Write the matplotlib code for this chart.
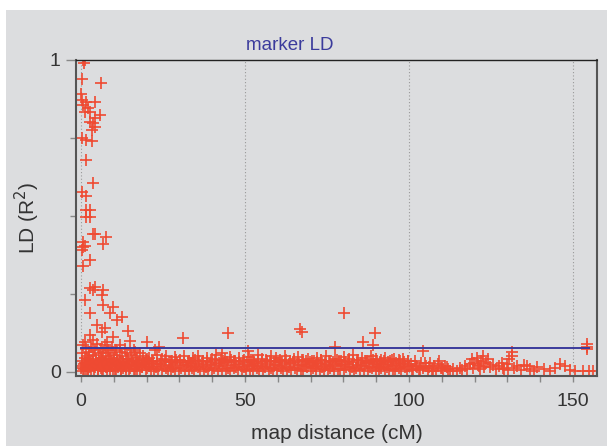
import numpy as np
import matplotlib
matplotlib.use("Agg")
import matplotlib.pyplot as plt
from matplotlib.patches import Rectangle
from matplotlib.ticker import MultipleLocator, FixedLocator

plt.rcParams['font.family'] = ['Liberation Sans', 'DejaVu Sans']

# pares con LD alto (lectura del grafico)
out_x = [0.5, 1.0, 1.2, 0.2, 6.0, 0.0, 0.2, 1.7, 4.3, 0.7, 2.2, 1.2, 2.7, 5.8, 4.3,
         2.7, 3.8, 4.3, 3.3, 0.2, 1.7, 3.3, 1.5, 3.8, 0.2, 1.7, 1.7, 2.9, 1.7, 2.9,
         3.6, 4.3, 7.6, 0.7, 1.2, 6.8, 0.5, 0.2, 2.7, 0.7, 2.7, 4.3, 3.8, 6.8, 6.3,
         1.2, 6.8, 9.8, 2.7, 8.8, 12.4, 10.9, 4.8, 7.3, 14.4, 6.3, 2.7, 9.8, 14.9, 1.2,
         3.8, 7.8, 20.0, 11.9, 23.9, 31.2, 44.9, 22.6, 16.5, 66.8, 67.3, 80.2, 89.6, 85.9,
         77.4, 89.1, 42.9, 51.0, 104.4, 131.3, 154.4, 154.4, 154.4]
out_y = [1.0, 0.99, 1.0, 0.94, 0.925, 0.89, 0.872, 0.866, 0.866, 0.856, 0.847, 0.834, 0.834, 0.824, 0.813,
         0.802, 0.797, 0.786, 0.776, 0.749, 0.744, 0.74, 0.68, 0.607, 0.578, 0.564, 0.519, 0.519, 0.498, 0.498,
         0.442, 0.442, 0.432, 0.418, 0.404, 0.41, 0.40, 0.391, 0.359, 0.34, 0.268, 0.273, 0.263, 0.263, 0.247,
         0.231, 0.215, 0.209, 0.188, 0.188, 0.175, 0.167, 0.151, 0.14, 0.132, 0.129, 0.119, 0.113, 0.10, 0.097,
         0.103, 0.097, 0.097, 0.087, 0.079, 0.108, 0.126, 0.07, 0.065, 0.137, 0.129, 0.19, 0.126, 0.097,
         0.081, 0.087, 0.062, 0.068, 0.068, 0.065, 0.073, 0.081, 0.088]

# banda densa cerca de 0-20 cM
near_x = [0.2, 0.4, 0.7, 1.0, 1.3, 1.5, 1.8, 2.1, 2.4, 2.6, 2.9, 3.2, 3.5, 3.7, 4.0,
          4.3, 4.6, 4.8, 5.1, 5.4, 5.7, 6.0, 6.2, 6.5, 6.8, 7.1, 7.4, 7.6, 7.9, 8.2,
          8.5, 8.8, 9.1, 9.4, 9.7, 10.0, 10.4, 10.7, 11.0, 11.4, 11.8, 12.1, 12.5, 12.9, 13.3,
          13.6, 14.0, 14.4, 14.8, 15.2, 15.7, 16.1, 16.6, 17.0, 17.5, 18.0, 18.5, 19.0, 19.5, 20.0]
near_y = [0.06, 0.02, 0.085, 0.01, 0.045, 0.075, 0.03, 0.005, 0.065, 0.05, 0.015, 0.08, 0.035, 0.055, 0.02,
          0.07, 0.04, 0.09, 0.01, 0.06, 0.025, 0.075, 0.045, 0.005, 0.065, 0.03, 0.085, 0.05, 0.015, 0.07,
          0.04, 0.06, 0.02, 0.08, 0.035, 0.055, 0.01, 0.07, 0.045, 0.025, 0.065, 0.005, 0.05, 0.03, 0.075,
          0.015, 0.06, 0.04, 0.02, 0.055, 0.035, 0.07, 0.01, 0.045, 0.025, 0.06, 0.015, 0.05, 0.03, 0.04]

# banda baja 0-100 cM
low_x = [0.1, 0.5, 0.9, 1.4, 1.8, 2.3, 2.6, 3.1, 3.5, 4.0, 4.4, 4.9, 5.3, 5.8, 6.2,
         6.7, 7.1, 7.6, 8.0, 8.5, 9.0, 9.4, 9.9, 10.3, 10.8, 11.3, 11.7, 12.2, 12.7, 13.1,
         13.6, 14.1, 14.6, 15.0, 15.6, 16.1, 16.5, 17.1, 17.6, 18.0, 18.6, 19.1, 19.7, 20.2, 20.8,
         21.3, 21.9, 22.4, 23.0, 23.6, 24.1, 24.7, 25.3, 25.8, 26.4, 27.0, 27.6, 28.1, 28.7, 29.3,
         29.9, 30.5, 31.1, 31.6, 32.2, 32.8, 33.4, 34.0, 34.6, 35.2, 35.8, 36.4, 37.0, 37.6, 38.2,
         38.8, 39.4, 40.0, 40.6, 41.2, 41.8, 42.4, 43.0, 43.6, 44.2, 44.8, 45.4, 46.0, 46.6, 47.2,
         47.8, 48.4, 49.0, 49.6, 50.2, 50.8, 51.4, 52.0, 52.6, 53.2, 53.8, 54.4, 55.0, 55.6, 56.2,
         56.8, 57.4, 58.0, 58.6, 59.2, 59.8, 60.4, 61.0, 61.6, 62.2, 62.8, 63.4, 64.0, 64.6, 65.2,
         65.8, 66.4, 67.0, 67.6, 68.2, 68.8, 69.4, 70.0, 70.6, 71.2, 71.8, 72.4, 73.0, 73.6, 74.2,
         74.8, 75.4, 76.0, 76.6, 77.2, 77.8, 78.4, 79.0, 79.6, 80.2, 80.8, 81.4, 82.0, 82.6, 83.2,
         83.8, 84.4, 85.0, 85.6, 86.2, 86.8, 87.4, 88.0, 88.6, 89.2, 89.8, 90.4, 91.0, 91.6, 92.2,
         92.8, 93.4, 94.0, 94.6, 95.2, 95.8, 96.4, 97.0, 97.6, 98.2, 98.8, 99.4, 100.0]
low_y = [0.012, 0.003, 0.025, 0.008, 0.018, 0.002, 0.03, 0.01, 0.022, 0.005, 0.015, 0.028, 0.007, 0.02, 0.012,
         0.004, 0.026, 0.016, 0.009, 0.024, 0.003, 0.019, 0.011, 0.029, 0.006, 0.017, 0.023, 0.002, 0.014, 0.027,
         0.008, 0.021, 0.004, 0.013, 0.025, 0.01, 0.018, 0.003, 0.022, 0.007, 0.016, 0.028, 0.005, 0.012, 0.02,
         0.009, 0.024, 0.002, 0.015, 0.011, 0.026, 0.006, 0.019, 0.013, 0.003, 0.023, 0.008, 0.017, 0.01, 0.029,
         0.004, 0.014, 0.021, 0.007, 0.018, 0.002, 0.025, 0.012, 0.005, 0.02, 0.015, 0.009, 0.027, 0.003, 0.016,
         0.011, 0.022, 0.006, 0.013, 0.024, 0.004, 0.019, 0.01, 0.028, 0.007, 0.014, 0.002, 0.021, 0.012, 0.017,
         0.005, 0.026, 0.009, 0.015, 0.003, 0.023, 0.011, 0.018, 0.006, 0.025, 0.013, 0.004, 0.02, 0.008, 0.016,
         0.027, 0.002, 0.014, 0.01, 0.022, 0.006, 0.019, 0.012, 0.003, 0.024, 0.009, 0.017, 0.005, 0.028, 0.013,
         0.007, 0.021, 0.011, 0.002, 0.018, 0.015, 0.025, 0.004, 0.012, 0.02, 0.008, 0.026, 0.003, 0.016, 0.01,
         0.023, 0.006, 0.014, 0.019, 0.002, 0.027, 0.011, 0.008, 0.021, 0.005, 0.015, 0.024, 0.009, 0.017, 0.003,
         0.013, 0.022, 0.007, 0.018, 0.01, 0.029, 0.004, 0.016, 0.012, 0.024, 0.006, 0.02, 0.002, 0.014, 0.026,
         0.009, 0.017, 0.005, 0.023, 0.011, 0.003, 0.019, 0.013, 0.008, 0.025, 0.015, 0.004, 0.02]

# segunda capa baja 0-100 cM (relleno de la banda)
low2_x = [0.3, 1.1, 2.0, 2.8, 3.6, 4.5, 5.5, 6.4, 7.3, 8.3, 9.2, 10.1, 11.0, 12.0, 12.9,
          13.8, 14.8, 15.8, 16.8, 17.8, 18.8, 19.9, 20.9, 22.0, 23.1, 24.3, 25.5, 26.7, 27.9, 29.0,
          30.2, 31.4, 32.5, 33.7, 34.9, 36.1, 37.3, 38.5, 39.7, 40.9, 42.1, 43.3, 44.5, 45.7, 46.9,
          48.1, 49.3, 50.5, 51.7, 52.9, 54.1, 55.3, 56.5, 57.7, 58.9, 60.1, 61.3, 62.5, 63.7, 64.9,
          66.1, 67.3, 68.5, 69.7, 70.9, 72.1, 73.3, 74.5, 75.7, 76.9, 78.1, 79.3, 80.5, 81.7, 82.9,
          84.1, 85.3, 86.5, 87.7, 88.9, 90.1, 91.3, 92.5, 93.7, 94.9, 96.1, 97.3, 98.5, 99.7]
low2_y = [0.035, 0.03, 0.04, 0.033, 0.038, 0.031, 0.036, 0.042, 0.032, 0.037, 0.034, 0.039, 0.031, 0.036, 0.033,
          0.04, 0.032, 0.035, 0.038, 0.031, 0.034, 0.037, 0.032, 0.036, 0.03, 0.035, 0.039, 0.031, 0.034, 0.037,
          0.032, 0.036, 0.033, 0.03, 0.038, 0.034, 0.031, 0.036, 0.033, 0.037, 0.03, 0.035, 0.032, 0.038, 0.034,
          0.031, 0.036, 0.033, 0.037, 0.03, 0.035, 0.032, 0.038, 0.034, 0.031, 0.036, 0.033, 0.037, 0.03, 0.035,
          0.032, 0.038, 0.034, 0.031, 0.036, 0.033, 0.037, 0.03, 0.035, 0.032, 0.038, 0.034, 0.031, 0.036, 0.033,
          0.037, 0.03, 0.035, 0.032, 0.038, 0.034, 0.031, 0.036, 0.033, 0.037, 0.03, 0.035, 0.032, 0.036]

# banda media 20-100 cM
mid_x = [20.6, 21.8, 23.3, 24.6, 25.9, 27.4, 28.8, 30.1, 31.5, 33.0, 34.3, 35.7, 37.1, 38.5, 39.9,
         41.3, 42.7, 44.0, 45.5, 46.8, 48.2, 49.7, 51.2, 52.5, 53.9, 55.3, 56.7, 57.9, 59.4, 60.8,
         62.1, 63.6, 64.9, 66.3, 67.8, 69.1, 70.5, 71.9, 73.2, 74.7, 76.0, 77.5, 78.8, 80.3, 81.6,
         83.0, 84.4, 85.8, 87.2, 88.5, 90.0, 91.4, 92.7, 94.2, 95.5, 96.9, 98.3, 99.6]
mid_y = [0.045, 0.035, 0.055, 0.04, 0.05, 0.033, 0.048, 0.038, 0.052, 0.036, 0.044, 0.05, 0.034, 0.046, 0.04,
         0.053, 0.037, 0.042, 0.049, 0.035, 0.045, 0.039, 0.047, 0.034, 0.055, 0.041, 0.036, 0.05, 0.044, 0.038,
         0.052, 0.035, 0.043, 0.048, 0.037, 0.04, 0.034, 0.046, 0.039, 0.05, 0.036, 0.042, 0.035, 0.047, 0.04,
         0.054, 0.038, 0.045, 0.036, 0.05, 0.041, 0.037, 0.046, 0.034, 0.043, 0.038, 0.04, 0.035]

# cola 100-156 cM
tail_x = [100.5, 101.2, 101.8, 102.5, 103.1, 103.8, 104.4, 105.1, 105.7, 106.4, 107.0, 107.7, 108.3, 109.0, 109.6,
          110.5, 111.5, 112.5, 113.5, 114.5, 115.5, 116.3, 117.0, 117.8, 118.5, 119.2, 119.9, 120.6, 121.3, 122.0,
          122.7, 123.4, 124.1, 124.8, 125.5, 126.5, 127.5, 128.3, 129.0, 129.8, 130.5, 131.3, 132.0, 133.0, 134.0,
          135.0, 136.0, 137.0, 138.0, 139.0, 141.0, 143.0, 144.5, 146.0, 147.5, 149.0, 150.5, 153.0, 155.0, 156.0,
          100.9, 102.1, 103.4, 104.8, 106.0, 107.3, 108.7, 110.0, 111.0, 112.0, 119.6, 120.9, 121.7, 123.0, 128.7, 130.1]
tail_y = [0.025, 0.01, 0.035, 0.015, 0.005, 0.028, 0.012, 0.02, 0.004, 0.03, 0.008, 0.018, 0.003, 0.036, 0.012,
          0.006, 0.015, 0.004, 0.01, 0.002, 0.012, 0.005, 0.018, 0.008, 0.025, 0.04, 0.03, 0.045, 0.02, 0.035,
          0.05, 0.028, 0.04, 0.015, 0.022, 0.01, 0.018, 0.03, 0.008, 0.025, 0.04, 0.05, 0.012, 0.02, 0.005,
          0.022, 0.018, 0.01, 0.004, 0.015, 0.008, 0.004, 0.012, 0.026, 0.018, 0.006, 0.003, 0.002, 0.003, 0.002,
          0.006, 0.02, 0.009, 0.03, 0.016, 0.004, 0.024, 0.012, 0.02, 0.008, 0.012, 0.022, 0.01, 0.016, 0.014, 0.005]

# umbral LD
thr_x = [0, 155]
thr_y = [0.077, 0.077]

red = '#ef4a32'
blue = '#3b3b9c'
gray_bg = '#dcdddf'
text_col = '#333333'

fig = plt.figure(figsize=(6.07, 4.46), dpi=100)
fig.patch.set_facecolor('white')
fig.patches.append(Rectangle((6 / 607, 0), 1, 1 - 10 / 446, transform=fig.transFigure,
                             facecolor=gray_bg, edgecolor='none', zorder=-10))

ax = fig.add_axes([76 / 607, 1 - 376 / 446, (597 - 76) / 607, (376 - 60) / 446])
ax.set_facecolor(gray_bg)

all_x = low_x + low2_x + mid_x + near_x + tail_x + out_x
all_y = low_y + low2_y + mid_y + near_y + tail_y + out_y
ax.plot(all_x, all_y, linestyle='none', marker='+', markersize=8.5,
        markeredgewidth=1.2, color=red, zorder=2)
ax.plot(thr_x, thr_y, color=blue, linewidth=1.4, zorder=3)

ax.set_xlim(-1.5, 157.3)
ax.set_ylim(-0.013, 1.0)

for gx in [0, 50, 100, 150]:
    ax.axvline(gx, color='#999999', linestyle=(0, (1, 2)), linewidth=0.8, zorder=1)

ax.xaxis.set_major_locator(FixedLocator([0, 50, 100, 150]))
ax.xaxis.set_minor_locator(MultipleLocator(10))
ax.yaxis.set_major_locator(FixedLocator([0, 1]))
ax.yaxis.set_minor_locator(FixedLocator([0.25, 0.5, 0.75]))
ax.tick_params(axis='x', which='both', direction='out', length=4, width=1,
               color='#888888', labelsize=14, labelcolor=text_col, pad=8)
ax.tick_params(axis='y', which='major', direction='out', length=7, width=1,
               color='#888888', labelsize=14, labelcolor=text_col, pad=4)
ax.tick_params(axis='y', which='minor', direction='out', length=4, width=1, color='#888888')

for side in ['left', 'bottom', 'right']:
    ax.spines[side].set_color('#555555')
    ax.spines[side].set_linewidth(1.5)
ax.spines['top'].set_color('#222222')
ax.spines['top'].set_linestyle((0, (1, 1)))
ax.spines['top'].set_linewidth(1.0)

ax.set_xlabel('map distance (cM)', fontsize=15, color=text_col, labelpad=10)
ax.set_ylabel('LD (R$^2$)', fontsize=15, color=text_col, labelpad=6)
fig.text(290 / 607, 1 - 45 / 446, 'marker LD', ha='center', va='center',
         fontsize=13.5, color=blue)

fig.savefig('out.png', dpi=100, facecolor=fig.get_facecolor())
